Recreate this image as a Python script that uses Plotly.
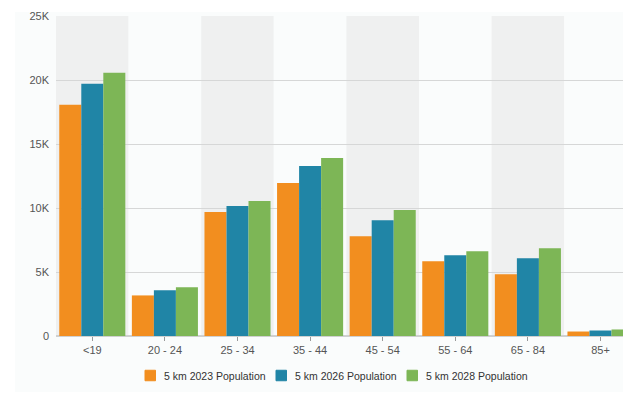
import plotly.graph_objects as go

categories = ["<19", "20 - 24", "25 - 34", "35 - 44", "45 - 54", "55 - 64", "65 - 84", "85+"]
pop_2023 = [18060, 3170, 9680, 11950, 7800, 5840, 4820, 350]
pop_2026 = [19710, 3570, 10150, 13280, 9050, 6310, 6070, 430]
pop_2028 = [20570, 3800, 10540, 13910, 9840, 6620, 6860, 510]
series_names = ["5 km 2023 Population", "5 km 2026 Population", "5 km 2028 Population"]
colors = ["#f28e1f", "#2085a6", "#7db656"]

W, H = 623, 393
ML, MR, MT, MB = 56, 0, 16, 57
PW, PH = W - ML - MR, H - MT - MB


def px(x):
    return (x - ML) / PW


def py(y):
    return (H - MB - y) / PH


fig = go.Figure()
for name, vals, col in zip(series_names, [pop_2023, pop_2026, pop_2028], colors):
    fig.add_trace(go.Bar(name=name, x=categories, y=vals, showlegend=False,
                         marker=dict(color=col, line=dict(width=0))))

shapes = []
# outer panel
shapes.append(dict(type="rect", xref="paper", yref="paper",
                   x0=px(15), x1=1.0, y0=py(392), y1=py(12),
                   fillcolor="#fafcfc", line=dict(width=0), layer="below"))
for i in range(len(categories)):
    shapes.append(dict(type="rect", xref="x", yref="paper", x0=i - 0.5, x1=i + 0.5, y0=0, y1=1,
                       fillcolor="#eff0f0" if i % 2 == 0 else "#fafcfc", line=dict(width=0), layer="below"))

# legend (drawn as shapes + text to match the reference spacing)
annotations = []
leg_x0, leg_pitch, leg_y, sq = 145, 131, 375.5, 10.5
for i, (name, col) in enumerate(zip(series_names, colors)):
    x0 = leg_x0 + i * leg_pitch
    shapes.append(dict(type="rect", xref="paper", yref="paper",
                       x0=px(x0), x1=px(x0 + sq), y0=py(leg_y + sq / 2), y1=py(leg_y - sq / 2),
                       fillcolor=col, line=dict(color=col, width=1)))
    annotations.append(dict(xref="paper", yref="paper", x=px(x0 + 17), y=py(leg_y),
                            xanchor="left", yanchor="middle", showarrow=False, text=name,
                            font=dict(size=10.5, color="#333333")))

fig.update_layout(
    width=W, height=H,
    margin=dict(l=ML, r=MR, t=MT, b=MB),
    paper_bgcolor="white", plot_bgcolor="rgba(0,0,0,0)",
    barmode="group", bargap=0.09, bargroupgap=0,
    shapes=shapes, annotations=annotations,
    font=dict(family="Liberation Sans, Arial, sans-serif", size=11, color="#555555"),
    xaxis=dict(range=[-0.5, 7.31], showgrid=False, ticks="outside", ticklen=4, tickcolor="#999999",
               tickfont=dict(size=11, color="#555555"), showline=False, zeroline=False),
    yaxis=dict(range=[0, 25000], tickvals=[0, 5000, 10000, 15000, 20000, 25000],
               ticktext=["0", "5K", "10K", "15K", "20K", "25K"],
               gridcolor="#d6d7d7", gridwidth=1, zeroline=True, zerolinecolor="#cfd0d0", zerolinewidth=2,
               showline=False, ticks="", tickfont=dict(size=11, color="#555555"), ticklabelstandoff=6),
    showlegend=False,
)
fig.write_html("out.html")
